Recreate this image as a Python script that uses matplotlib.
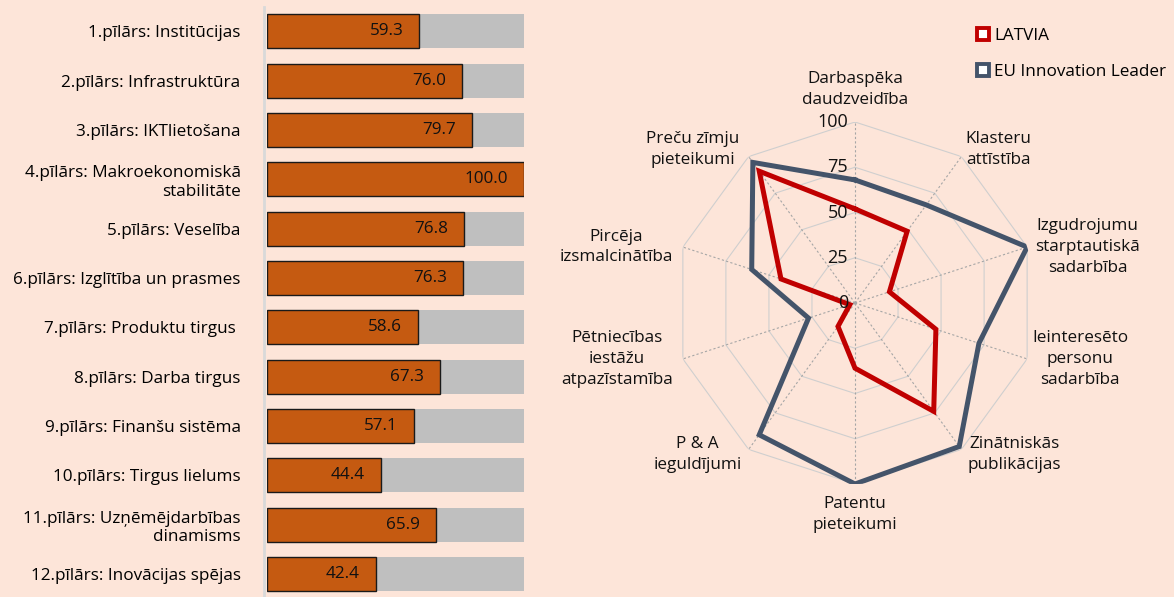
import numpy as np
import matplotlib.pyplot as plt
from matplotlib.lines import Line2D

plt.rcParams["font.family"] = ["Open Sans", "DejaVu Sans"]
plt.rcParams["font.size"] = 12.3

# ---- left: pillar scores ----
pillars = [
    "1.pīlārs: Institūcijas",
    "2.pīlārs: Infrastruktūra",
    "3.pīlārs: IKTlietošana",
    "4.pīlārs: Makroekonomiskā\nstabilitāte",
    "5.pīlārs: Veselība",
    "6.pīlārs: Izglītība un prasmes",
    "7.pīlārs: Produktu tirgus ",
    "8.pīlārs: Darba tirgus",
    "9.pīlārs: Finanšu sistēma",
    "10.pīlārs: Tirgus lielums",
    "11.pīlārs: Uzņēmējdarbības\ndinamisms",
    "12.pīlārs: Inovācijas spējas",
]
pillar_scores = [59.3, 76.0, 79.7, 100.0, 76.8, 76.3, 58.6, 67.3, 57.1, 44.4, 65.9, 42.4]
pillar_max = [100] * len(pillars)

# ---- right: radar ----
radar_labels = [
    "Darbaspēka\ndaudzveidība",
    "Klasteru\nattīstība",
    "Izgudrojumu\nstarptautiskā\nsadarbība",
    "Ieinteresēto\npersonu\nsadarbība",
    "Zinātniskās\npublikācijas",
    "Patentu\npieteikumi",
    "P & A\nieguldījumi",
    "Pētniecības\niestāžu\natpazīstamība",
    "Pircēja\nizsmalcinātība",
    "Preču zīmju\npieteikumi",
]
latvia = [52, 49, 20, 47, 74, 36, 16, 3, 43, 90]
eu_leader = [68, 67, 100, 72, 98, 100, 90, 27, 60, 96]
radar_ticks = [0, 25, 50, 75, 100]

BG = "#FDE5D9"
ORANGE = "#C55A11"
GREY = "#BFBFBF"
RED = "#C00000"
BLUE = "#44546A"

fig = plt.figure(figsize=(11.74, 5.97), dpi=100, facecolor=BG)

# =========================================================
# bar chart
# =========================================================
ax = fig.add_axes([267 / 1174, 1 - 598.6 / 597, 257 / 1174, 592 / 597])
ax.set_facecolor(BG)
y = np.arange(len(pillars))
ax.barh(y, pillar_max, height=0.69, color=GREY, zorder=1)
bars = ax.barh(y, pillar_scores, height=0.69, color=ORANGE,
               edgecolor="#1a1a1a", linewidth=1.0, zorder=2)
for b, v in zip(bars, pillar_scores):
    ax.annotate(f"{v:.1f}", (b.get_width(), b.get_y() + b.get_height() / 2),
                xytext=(-16, 0), textcoords="offset pixels",
                ha="right", va="center", color="#111111", zorder=3)
ax.set_xlim(0, 100)
ax.set_ylim(len(pillars) - 0.5, -0.5)
ax.set_xticks([])
ax.set_yticks(y)
ax.set_yticklabels(pillars)
for t in ax.get_yticklabels():
    t.set_multialignment("center")
    t.set_linespacing(1.3)
ax.tick_params(axis="y", length=0, pad=17)
for s in ["top", "right", "bottom"]:
    ax.spines[s].set_visible(False)
ax.spines["left"].set_color("#D9D9D9")
ax.spines["left"].set_linewidth(2)
ax.spines["left"].set_position(("outward", 2))

# =========================================================
# radar chart
# =========================================================
cx, cy, r = 855 / 1174, 1 - 303 / 597, 181
w, h = r / 1174, r / 597
rax = fig.add_axes([cx - w, cy - h, 2 * w, 2 * h], projection="polar")
rax.set_theta_zero_location("N")
rax.set_theta_direction(-1)
rax.set_ylim(0, 100)
rax.set_axis_off()

n = len(radar_labels)
theta = np.linspace(0, 2 * np.pi, n, endpoint=False)
theta_c = np.append(theta, theta[0])

for lvl in radar_ticks[1:]:
    rax.plot(theta_c, [lvl] * (n + 1), color="#CFCFCF", lw=0.8, zorder=1)
for t in theta:
    rax.plot([t, t], [0, 100], color="#A6A6A6", lw=0.8, ls=(0, (2, 2)), zorder=1)

rax.plot(theta_c, eu_leader + eu_leader[:1], color=BLUE, lw=3.6, zorder=3,
         solid_joinstyle="miter")
rax.plot(theta_c, latvia + latvia[:1], color=RED, lw=3.6, zorder=4,
         solid_joinstyle="miter")

for lvl in radar_ticks:
    rax.annotate(str(lvl), (0, lvl), xytext=(-7, 0), textcoords="offset pixels",
                 ha="right", va="center", color="#111111", zorder=5,
                 fontsize=13, annotation_clip=False)

# label offsets (pixels) and alignment per spoke
offsets = [(0, 14), (4, 7), (8, 0), (5, 0), (6, -5), (0, -12), (-7, -5), (-10, 0), (-10, 0), (-9, 7)]
aligns = [("center", "bottom"), ("left", "center"), ("left", "center"), ("left", "center"),
          ("left", "center"), ("center", "top"), ("right", "center"), ("right", "center"),
          ("right", "center"), ("right", "center")]
for t, lab, off, (ha, va) in zip(theta, radar_labels, offsets, aligns):
    rax.annotate(lab, (t, 100), xytext=off, textcoords="offset pixels",
                 ha=ha, va=va, multialignment="center", color="#111111",
                 linespacing=1.4, annotation_clip=False)

handles = [
    Line2D([], [], ls="none", marker="s", markersize=8.5, mfc="white", mec=RED, mew=2.8),
    Line2D([], [], ls="none", marker="s", markersize=8.5, mfc="white", mec=BLUE, mew=2.8),
]
fig.legend(handles, ["LATVIA", "EU Innovation Leader"], loc="upper left",
           bbox_to_anchor=(976 / 1174, 1 - 28 / 597), frameon=False,
           handlelength=0.8, handletextpad=0.25, labelspacing=1.15,
           borderaxespad=0, borderpad=0)

fig.savefig("out.png", dpi=100, facecolor=BG)
